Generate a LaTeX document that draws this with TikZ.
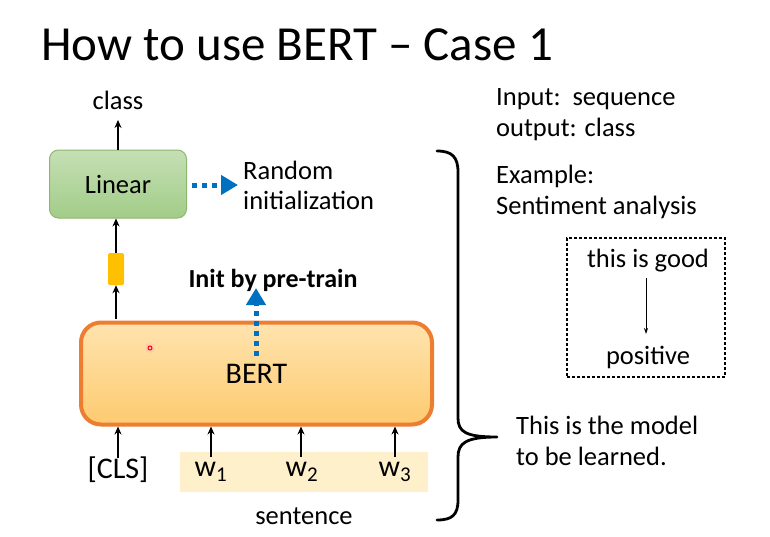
\documentclass[tikz,border=0pt]{standalone}
\usepackage{fontspec}
\setmainfont{Carlito}
\usetikzlibrary{arrows.meta,shapes.geometric}
\definecolor{bblue}{HTML}{0070C0}
\definecolor{borange}{HTML}{ED7D31}
\definecolor{ygold}{HTML}{FFC000}
\definecolor{gtop}{HTML}{C5E0B4}
\definecolor{gbot}{HTML}{A2CC88}
\definecolor{gbord}{HTML}{8CB86E}
\definecolor{otop}{HTML}{FFE3AE}
\definecolor{obot}{HTML}{FDCB70}
\definecolor{beige}{HTML}{FFF0CC}
\tikzset{
  txt/.style={font=\fontsize{26.5}{31}\selectfont, inner sep=0pt},
  blk/.style={-{Stealth[length=8pt,width=7pt]}, line width=1.8pt},
  bluedot/.style={draw=bblue, line width=5pt, dash pattern=on 5pt off 5pt, -{Triangle[length=17pt,width=19pt]}},
}
\begin{document}
\begin{tikzpicture}[x=1pt,y=-1pt]
\useasboundingbox (0,0) rectangle (770,536);
\fill[white] (0,0) rectangle (770,536);
% title
\node[anchor=base west, inner sep=0pt, font=\fontsize{49}{56}\selectfont] (title) at (41,60) {How to use BERT -- Case 1};
% Linear box
\node[draw=gbord, line width=1pt, rounded corners=9pt, top color=gtop, bottom color=gbot, minimum width=137pt, minimum height=68pt, txt] (lin) at (118,184) {Linear};
\node[txt] (cls) at (118,100) {class};
\draw[blk] (lin.north) -- (cls.south |- 0,120);
% small vector
\node[draw=none, fill=ygold, rounded corners=1.5pt, minimum width=16pt, minimum height=32pt, inner sep=0pt] (vec) at (116,269) {};
\draw[blk] (vec.north) -- (lin.south -| vec.north);
% BERT box
\node[draw=borange, line width=4pt, rounded corners=20pt, top color=otop, bottom color=obot, minimum width=351pt, minimum height=102pt, inner sep=0pt, font=\fontsize{30}{34}\selectfont] (bert) at (256.5,373.5) {BERT};
\draw[blk] (bert.north -| vec.south) ++(0,-2) coordinate (bt) -- (vec.south);
% random init
\coordinate (rs) at (192,185);
\draw[bluedot] (rs) -- (238,185);
\node[txt, anchor=west, align=left] (rand) at (243,185) {Random\\[-1pt]initialization};
% init by pre-train
\node[txt, font=\bfseries\fontsize{26}{30}\selectfont] (init) at (273,280) {Init by pre-train};
\coordinate (is) at (256,356);
\draw[bluedot] (is) -- (256,288);
% inputs
\fill[beige] (180,452) rectangle (428,492);
\node[txt, font=\fontsize{30}{34}\selectfont] (clst) at (118,470) {[CLS]};
\node[txt, font=\fontsize{30}{34}\selectfont] (w1) at (211,472) {w\textsubscript{1}};
\node[txt, font=\fontsize{30}{34}\selectfont] (w2) at (302,472) {w\textsubscript{2}};
\node[txt, font=\fontsize{30}{34}\selectfont] (w3) at (395,472) {w\textsubscript{3}};
\coordinate (a0) at (118,458);
\coordinate (a1) at (211,457);
\coordinate (a2) at (301,457);
\coordinate (a3) at (395,457);
\foreach \a in {a0,a1,a2,a3} { \draw[blk] (\a) -- (\a |- bert.south); }
\node[txt] (sent) at (304,516) {sentence};
% brace
\draw[line width=2.8pt, line cap=round] (437,151) .. controls (452,151) and (458,157) .. (458,172)
  -- (458,418) .. controls (458,432) and (466,437) .. (497,437)
  coordinate (btip)
  (497,437) .. controls (466,437) and (458,443) .. (458,457)
  -- (458,500) .. controls (458,515) and (452,520) .. (437,520);
% right texts
\node[txt, anchor=west, align=left] (io) at (496,115) {Input:\ \ sequence\\output: class};
\node[txt, anchor=west, align=left] (ex) at (496,192) {Example:\\Sentiment analysis};
\node[draw, line width=2.6pt, dash pattern=on 2.6pt off 2.4pt, minimum width=158pt, minimum height=139pt] (dbox) at (646,307.5) {};
\node[txt] (good) at (648,261) {this is good};
\node[txt] (pos) at (648,357) {positive};
\draw[-{Stealth[length=6pt,width=4pt]}, line width=0.8pt] (646,278) -- (646,334);
\node[txt, anchor=west, align=left] (model) at (516,441) {This is the model\\to be learned.};
% laser pointer dot
\fill[red!25, opacity=0.5] (150,348) circle (5pt);
\draw[red, line width=1pt] (150,348) circle (2pt);
\end{tikzpicture}
\end{document}
